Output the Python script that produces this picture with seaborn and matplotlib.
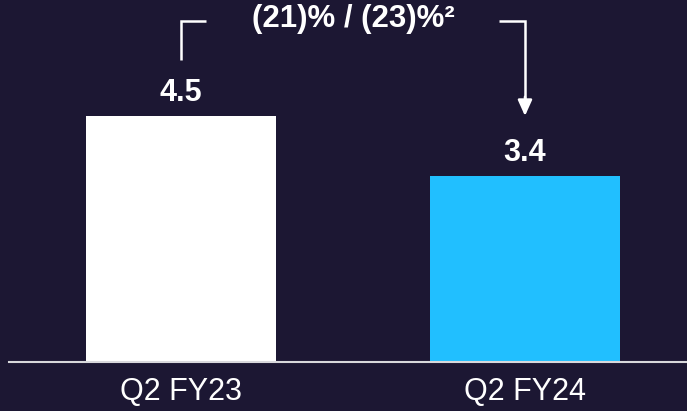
import matplotlib
matplotlib.use("Agg")
import matplotlib.pyplot as plt
import seaborn as sns
import pandas as pd

categories = ["Q2 FY23", "Q2 FY24"]
values = [4.5, 3.4]
value_labels = ["4.5", "3.4"]
change_label = "(21)% / (23)%²"

BG = "#1c1733"
BAR_COLORS = ["#ffffff", "#21bfff"]

sns.set_theme(style="white")
plt.rcParams["font.family"] = ["Liberation Sans", "DejaVu Sans"]

fig = plt.figure(figsize=(6.87, 4.11), dpi=100, facecolor=BG)
ax = fig.add_axes([9 / 687, 1 - 362 / 411, 1 - 9 / 687, 362 / 411])
ax.set_facecolor(BG)

df = pd.DataFrame({"cat": categories, "val": values})
sns.barplot(data=df, x="cat", y="val", hue="cat", palette=BAR_COLORS,
            width=0.555, legend=False, ax=ax, saturation=1, linewidth=0)

ax.set_xlim(-0.5, 1.471)
ax.set_ylim(0, 6.62)

for i, (v, lab) in enumerate(zip(values, value_labels)):
    ax.annotate(lab, (i, v), xytext=(0, 6), textcoords="offset points",
                ha="center", va="bottom", color="white", fontsize=22,
                fontweight="bold")

# bracket annotation
top = 6.23
ax.plot([0, 0, 0.072], [values[0] + 1.03, top, top], color="white", lw=1.8,
        solid_capstyle="butt", solid_joinstyle="miter")
ax.plot([0.924, 1, 1], [top, top, values[0] + 0.3], color="white", lw=1.8,
        solid_capstyle="butt", solid_joinstyle="miter")
ax.annotate("", xy=(1, values[0]), xytext=(1, values[0] + 0.35),
            arrowprops=dict(arrowstyle="-|>,head_length=0.8,head_width=0.36",
                            color="white", lw=1.8, shrinkA=0, shrinkB=0))
ax.text(0.5, top + 0.05, change_label, ha="center", va="center", color="white",
        fontsize=22.5, fontweight="bold")

for s in ["top", "right", "left"]:
    ax.spines[s].set_visible(False)
ax.spines["bottom"].set_color("#d8d8dc")
ax.spines["bottom"].set_linewidth(1.5)
ax.set_yticks([])
ax.set_xlabel("")
ax.set_ylabel("")
ax.tick_params(axis="x", length=0, pad=11, labelsize=22, labelcolor="white")

fig.savefig("out.png", dpi=100, facecolor=BG)
